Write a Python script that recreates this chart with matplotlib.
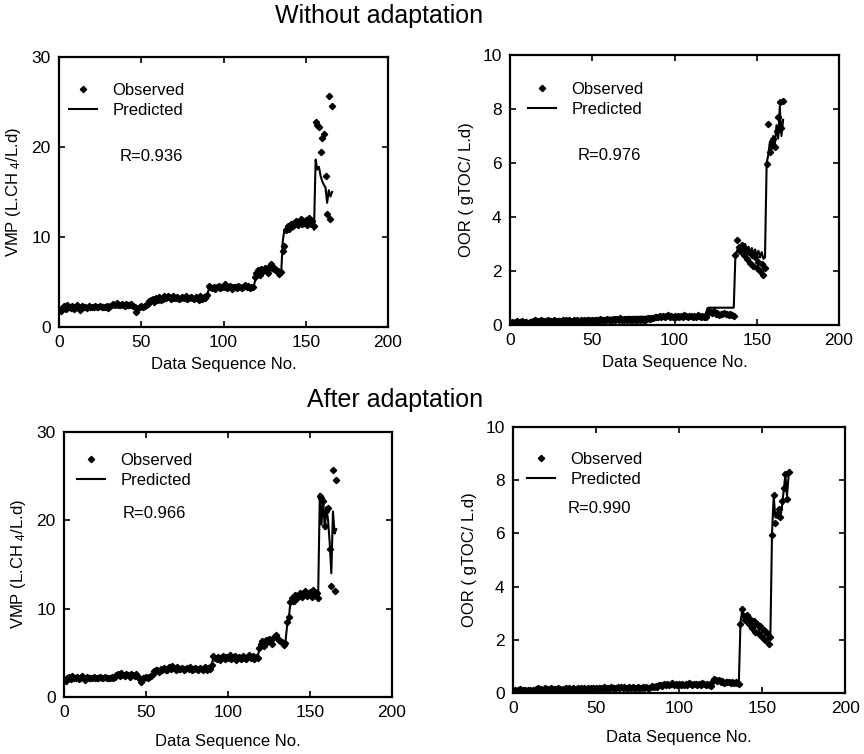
import numpy as np
import matplotlib
matplotlib.use("Agg")
import matplotlib.pyplot as plt

plt.rcParams['font.family'] = ['Liberation Sans', 'DejaVu Sans']
plt.rcParams['mathtext.fontset'] = 'custom'
plt.rcParams['mathtext.rm'] = 'Liberation Sans'
plt.rcParams['mathtext.default'] = 'regular'

# ---------------- data ----------------
vmp_observed = [
    1.8, 2.1, 2.3, 2.0, 2.4, 2.2, 2.1, 2.3, 2.0, 2.2,
    2.4, 2.1, 1.9, 2.3, 2.2, 2.2, 2.1, 2.3, 2.2, 2.2,
    2.2, 2.3, 2.2, 2.2, 2.3, 2.2, 2.2, 2.2, 2.3, 2.1,
    2.3, 2.5, 2.6, 2.4, 2.7, 2.5, 2.4, 2.6, 2.5, 2.3,
    2.6, 2.5, 2.4, 2.6, 2.3, 2.2, 1.7, 2.1, 2.2, 2.3,
    2.2, 2.3, 2.4, 2.6, 2.9, 3.0, 3.1, 2.8, 3.2, 3.0,
    3.3, 3.0, 3.1, 3.4, 3.2, 3.5, 3.3, 3.1, 3.4, 3.2,
    3.2, 3.3, 3.1, 3.2, 3.3, 3.2, 3.4, 3.1, 3.2, 3.3,
    3.2, 3.1, 3.3, 3.2, 3.0, 3.4, 3.1, 3.3, 3.2, 3.6,
    4.6, 4.4, 4.3, 4.5, 4.2, 4.4, 4.6, 4.3, 4.5, 4.4,
    4.8, 4.3, 4.5, 4.6, 4.2, 4.4, 4.5, 4.3, 4.6, 4.4,
    4.3, 4.5, 4.7, 4.4, 4.6, 4.3, 4.5, 4.4, 5.6, 6.0,
    6.3, 5.8, 6.5, 6.2, 6.6, 6.4, 6.0, 6.8, 7.0, 6.7,
    6.5, 6.3, 6.2, 5.9, 6.1, 8.5, 9.0, 10.8, 11.2, 10.9,
    11.5, 11.2, 11.6, 11.8, 11.3, 11.7, 12.0, 11.4, 11.6, 11.9,
    11.3, 12.1, 11.5, 11.8, 11.2,
    22.8, 22.5, 22.2, 19.4, 21.0, 21.4, 16.8, 12.6, 25.7, 12.0, 24.6,
]

vmp_pred_without = [
    1.9, 2.0, 2.2, 2.1, 2.2, 2.2, 2.1, 2.2, 2.1, 2.2,
    2.2, 2.1, 2.0, 2.2, 2.2, 2.2, 2.2, 2.2, 2.2, 2.2,
    2.2, 2.2, 2.2, 2.2, 2.2, 2.2, 2.2, 2.2, 2.2, 2.2,
    2.3, 2.4, 2.5, 2.4, 2.5, 2.5, 2.4, 2.5, 2.4, 2.3,
    2.4, 2.4, 2.3, 2.4, 2.3, 2.2, 2.0, 2.1, 2.2, 2.2,
    2.2, 2.2, 2.3, 2.5, 2.7, 2.9, 3.0, 2.9, 3.0, 3.0,
    3.1, 3.0, 3.0, 3.2, 3.1, 3.2, 3.1, 3.1, 3.2, 3.1,
    3.1, 3.2, 3.1, 3.1, 3.2, 3.1, 3.2, 3.1, 3.1, 3.2,
    3.1, 3.1, 3.2, 3.1, 3.0, 3.2, 3.1, 3.2, 3.1, 3.4,
    4.2, 4.2, 4.1, 4.2, 4.1, 4.2, 4.3, 4.1, 4.2, 4.2,
    4.4, 4.2, 4.2, 4.3, 4.1, 4.2, 4.2, 4.1, 4.3, 4.2,
    4.1, 4.2, 4.3, 4.2, 4.3, 4.1, 4.2, 4.2, 5.0, 5.6,
    5.8, 5.7, 6.0, 6.0, 6.1, 6.1, 5.9, 6.2, 6.3, 6.2,
    6.1, 6.0, 5.9, 5.7, 5.8, 9.5, 10.8, 11.0, 11.1, 10.9,
    11.2, 11.1, 11.3, 11.4, 11.1, 11.3, 11.5, 11.2, 11.3, 11.5,
    11.1, 11.6, 11.2, 11.4, 10.8,
    18.6, 17.5, 17.8, 16.8, 16.2, 15.8, 15.5, 13.8, 15.2, 14.5, 15.0,
]

vmp_pred_after = [
    1.9, 2.1, 2.2, 2.1, 2.3, 2.2, 2.1, 2.2, 2.1, 2.2,
    2.3, 2.1, 2.0, 2.2, 2.2, 2.2, 2.2, 2.2, 2.2, 2.2,
    2.2, 2.2, 2.2, 2.2, 2.2, 2.2, 2.2, 2.2, 2.2, 2.1,
    2.3, 2.5, 2.5, 2.4, 2.6, 2.5, 2.4, 2.5, 2.5, 2.3,
    2.5, 2.5, 2.4, 2.5, 2.3, 2.2, 1.9, 2.1, 2.2, 2.3,
    2.2, 2.3, 2.4, 2.6, 2.8, 3.0, 3.0, 2.9, 3.1, 3.0,
    3.2, 3.0, 3.1, 3.3, 3.2, 3.4, 3.3, 3.1, 3.3, 3.2,
    3.2, 3.3, 3.1, 3.2, 3.2, 3.2, 3.3, 3.1, 3.2, 3.2,
    3.2, 3.1, 3.2, 3.2, 3.0, 3.3, 3.1, 3.2, 3.2, 3.5,
    4.5, 4.4, 4.3, 4.4, 4.2, 4.4, 4.5, 4.3, 4.4, 4.4,
    4.7, 4.3, 4.4, 4.5, 4.2, 4.4, 4.4, 4.3, 4.5, 4.4,
    4.3, 4.4, 4.6, 4.4, 4.5, 4.3, 4.4, 4.4, 5.4, 5.9,
    6.2, 5.9, 6.4, 6.2, 6.5, 6.4, 6.1, 6.7, 6.9, 6.7,
    6.5, 6.3, 6.2, 6.0, 6.2, 8.0, 8.8, 10.6, 11.1, 10.5,
    11.3, 11.0, 11.6, 11.7, 11.3, 11.6, 11.9, 11.4, 11.6, 11.8,
    11.4, 12.0, 11.6, 11.8, 11.9,
    23.0, 19.5, 22.5, 19.0, 21.5, 20.0, 17.5, 14.0, 21.0, 18.5, 19.0,
]

oor_observed = [
    0.12, 0.08, 0.10, 0.14, 0.09, 0.11, 0.13, 0.08, 0.10, 0.12,
    0.09, 0.11, 0.10, 0.15, 0.18, 0.13, 0.16, 0.12, 0.17, 0.14,
    0.15, 0.13, 0.18, 0.14, 0.16, 0.12, 0.17, 0.15, 0.13, 0.16,
    0.14, 0.18, 0.15, 0.17, 0.13, 0.19, 0.16, 0.14, 0.18, 0.15,
    0.17, 0.14, 0.19, 0.16, 0.20, 0.15, 0.18, 0.17, 0.14, 0.19,
    0.16, 0.20, 0.18, 0.15, 0.21, 0.17, 0.19, 0.16, 0.22, 0.18,
    0.20, 0.17, 0.23, 0.19, 0.21, 0.18, 0.24, 0.20, 0.17, 0.22,
    0.19, 0.23, 0.20, 0.18, 0.22, 0.20, 0.17, 0.21, 0.19, 0.23,
    0.20, 0.18, 0.22, 0.25, 0.21, 0.27, 0.24, 0.29, 0.31, 0.28,
    0.33, 0.30, 0.35, 0.29, 0.32, 0.36, 0.30, 0.34, 0.31, 0.35,
    0.30, 0.33, 0.29, 0.34, 0.31, 0.36, 0.32, 0.30, 0.35, 0.33,
    0.29, 0.34, 0.31, 0.36, 0.32, 0.30, 0.35, 0.31, 0.28, 0.42,
    0.52, 0.48, 0.45, 0.50, 0.40, 0.44, 0.38, 0.42, 0.40, 0.43,
    0.39, 0.41, 0.38, 0.40, 0.36, 0.34,
    2.60, 3.15, 2.90, 2.75, 2.95, 2.60, 2.80, 2.45, 2.70, 2.30,
    2.60, 2.20, 2.50, 2.10, 2.35, 2.00, 2.25, 1.85, 2.10,
    5.95, 7.45, 6.40, 6.70, 6.90, 6.60, 7.20, 7.70, 8.25, 7.30, 8.30,
]

oor_pred_without = [
    0.15, 0.14, 0.13, 0.14, 0.14, 0.13, 0.14, 0.13, 0.14, 0.14,
    0.14, 0.14, 0.15, 0.17, 0.18, 0.17, 0.18, 0.17, 0.18, 0.18,
    0.18, 0.18, 0.19, 0.18, 0.19, 0.18, 0.19, 0.19, 0.18, 0.19,
    0.19, 0.20, 0.20, 0.21, 0.20, 0.21, 0.21, 0.20, 0.21, 0.21,
    0.21, 0.21, 0.22, 0.22, 0.23, 0.22, 0.23, 0.23, 0.22, 0.24,
    0.24, 0.25, 0.25, 0.24, 0.26, 0.25, 0.26, 0.26, 0.27, 0.26,
    0.27, 0.27, 0.28, 0.28, 0.28, 0.28, 0.29, 0.29, 0.28, 0.29,
    0.29, 0.30, 0.30, 0.29, 0.30, 0.30, 0.30, 0.30, 0.30, 0.31,
    0.30, 0.30, 0.31, 0.31, 0.31, 0.32, 0.32, 0.33, 0.34, 0.33,
    0.34, 0.33, 0.35, 0.33, 0.34, 0.35, 0.33, 0.34, 0.33, 0.35,
    0.33, 0.34, 0.33, 0.34, 0.33, 0.35, 0.34, 0.33, 0.35, 0.34,
    0.33, 0.34, 0.34, 0.35, 0.34, 0.33, 0.35, 0.34, 0.40, 0.62,
    0.64, 0.64, 0.64, 0.64, 0.64, 0.64, 0.64, 0.64, 0.64, 0.64,
    0.64, 0.64, 0.64, 0.64, 0.64, 0.64,
    2.55, 2.75, 2.90, 2.70, 2.95, 2.80, 3.00, 2.75, 2.90, 2.65,
    2.85, 2.60, 2.80, 2.55, 2.75, 2.50, 2.70, 2.45, 2.50,
    6.00, 6.30, 6.80, 6.50, 7.00, 6.70, 7.40, 6.90, 8.10, 7.00, 7.60,
]

oor_pred_after = [
    0.12, 0.10, 0.10, 0.12, 0.10, 0.11, 0.12, 0.10, 0.10, 0.11,
    0.10, 0.11, 0.10, 0.14, 0.16, 0.14, 0.15, 0.13, 0.16, 0.14,
    0.15, 0.14, 0.16, 0.14, 0.15, 0.13, 0.16, 0.15, 0.14, 0.15,
    0.15, 0.17, 0.15, 0.16, 0.14, 0.18, 0.16, 0.15, 0.17, 0.15,
    0.16, 0.15, 0.18, 0.16, 0.19, 0.16, 0.17, 0.17, 0.15, 0.18,
    0.17, 0.19, 0.18, 0.16, 0.20, 0.18, 0.19, 0.17, 0.21, 0.19,
    0.20, 0.18, 0.22, 0.20, 0.21, 0.19, 0.23, 0.20, 0.18, 0.21,
    0.20, 0.22, 0.20, 0.19, 0.21, 0.20, 0.18, 0.21, 0.20, 0.22,
    0.20, 0.19, 0.22, 0.24, 0.22, 0.26, 0.24, 0.28, 0.30, 0.28,
    0.32, 0.30, 0.34, 0.30, 0.32, 0.35, 0.31, 0.33, 0.31, 0.34,
    0.31, 0.33, 0.30, 0.33, 0.31, 0.35, 0.32, 0.31, 0.34, 0.33,
    0.30, 0.33, 0.31, 0.35, 0.32, 0.31, 0.34, 0.31, 0.30, 0.40,
    0.50, 0.48, 0.46, 0.49, 0.42, 0.44, 0.40, 0.42, 0.41, 0.43,
    0.40, 0.41, 0.39, 0.40, 0.38, 0.37,
    2.65, 3.10, 2.95, 2.80, 2.90, 2.70, 2.75, 2.55, 2.70, 2.45,
    2.60, 2.35, 2.50, 2.25, 2.40, 2.15, 2.30, 2.00, 2.15,
    6.00, 7.40, 6.60, 6.80, 6.70, 6.60, 7.00, 7.60, 8.20, 7.40, 8.20,
]

x_ticks = [0, 50, 100, 150, 200]
vmp_ticks = [0, 10, 20, 30]
oor_ticks = [0, 2, 4, 6, 8, 10]
titles = ["Without adaptation", "After adaptation"]
r_labels = ["R=0.936", "R=0.976", "R=0.966", "R=0.990"]
x_label = "Data Sequence No."
vmp_label = "VMP (L.CH $_4$/L.d)"
oor_label = "OOR ( gTOC/ L.d)"

# ---------------- figure ----------------
fig = plt.figure(figsize=(8.64, 7.54), dpi=100)

panels = [
    # rect, observed, predicted, yticks, ylabel, R, legend anchor, R pos, xlabelpad
    ([0.0683, 0.5663, 0.3808, 0.3581], vmp_observed, vmp_pred_without, vmp_ticks, vmp_label,
     r_labels[0], (0.03, 0.905), (0.185, 0.63), 5),
    ([0.5903, 0.5690, 0.3808, 0.3581], oor_observed, oor_pred_without, oor_ticks, oor_label,
     r_labels[1], (0.055, 0.90), (0.207, 0.626), 5),
    ([0.0741, 0.0756, 0.3796, 0.3515], vmp_observed, vmp_pred_after, vmp_ticks, vmp_label,
     r_labels[2], (0.04, 0.92), (0.18, 0.694), 10),
    ([0.5938, 0.0809, 0.3843, 0.3528], oor_observed, oor_pred_after, oor_ticks, oor_label,
     r_labels[3], (0.042, 0.905), (0.163, 0.695), 10),
]

for rect, obs, pred, yt, ylab, rtxt, lanchor, rpos, xlp in panels:
    ax = fig.add_axes(rect)
    xo = np.arange(1, len(obs) + 1)
    xp = np.arange(1, len(pred) + 1)
    ax.plot(xp, pred, color='black', lw=1.5, label='Predicted', zorder=2)
    ax.plot(xo, obs, linestyle='none', marker='D', ms=3.2, color='black',
            label='Observed', zorder=3)
    ax.set_xlim(0, 200)
    ax.set_ylim(yt[0], yt[-1])
    ax.set_xticks(x_ticks)
    ax.set_yticks(yt)
    ax.tick_params(direction='in', top=True, right=True, length=4, width=1.2,
                   labelsize=12.5, pad=6)
    for s in ax.spines.values():
        s.set_linewidth(1.6)
    ax.set_xlabel(x_label, fontsize=12, labelpad=xlp)
    ax.set_ylabel(ylab, fontsize=12, labelpad=6)
    h, l = ax.get_legend_handles_labels()
    ax.legend([h[1], h[0]], [l[1], l[0]], loc='upper left', bbox_to_anchor=lanchor,
              frameon=False, fontsize=12, handlelength=1.7, handletextpad=0.9,
              labelspacing=0.3, borderpad=0, borderaxespad=0, numpoints=1)
    ax.text(rpos[0], rpos[1], rtxt, transform=ax.transAxes, fontsize=12,
            ha='left', va='center')

fig.text(379 / 864, 1 - 16 / 754, titles[0], fontsize=18, ha='center', va='center')
fig.text(395 / 864, 1 - 400 / 754, titles[1], fontsize=18, ha='center', va='center')

fig.savefig("out.png", dpi=100)
